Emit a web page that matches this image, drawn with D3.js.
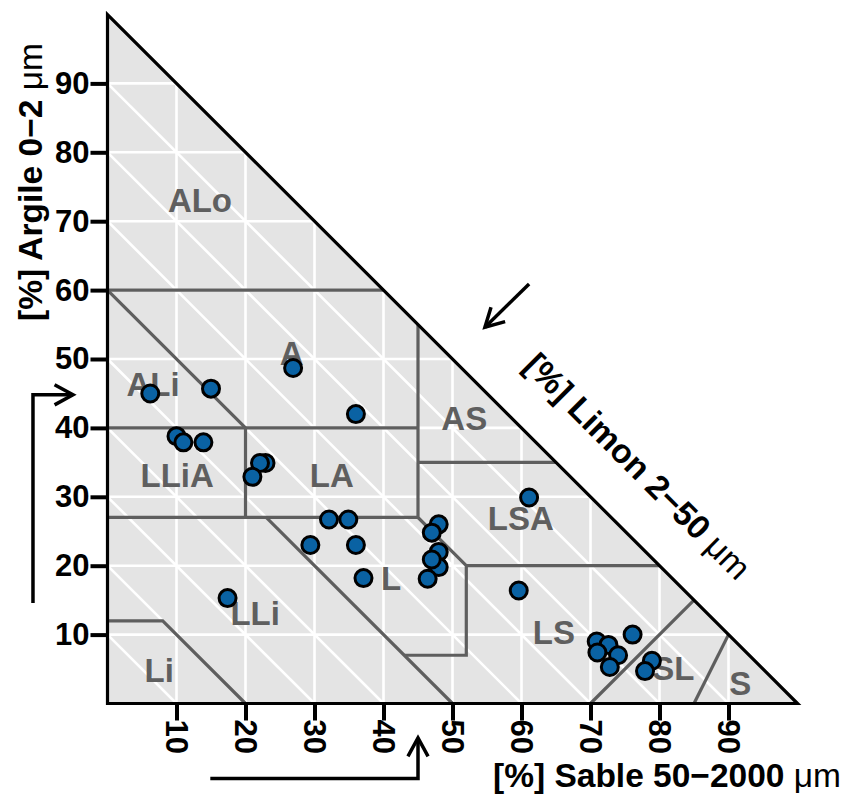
<!DOCTYPE html>
<html>
<head>
<meta charset="utf-8">
<script src="https://cdn.jsdelivr.net/npm/d3@7"></script>
<style>
  body { margin: 0; background: #fff; }
  text { font-family: "Liberation Sans", Arial, sans-serif; font-weight: bold; }
</style>
</head>
<body>
<svg id="chart" width="849" height="795"></svg>
<script>
// samples: sand (50-2000 um) and clay (0-2 um), in %
const sand = [6.2, 15.0, 10.0, 11.0, 13.9, 22.9, 22.1, 21.0, 26.9, 36.0,
              32.1, 34.9, 29.4, 36.0, 37.1, 48.0, 47.0, 48.0, 48.0, 47.0,
              46.4, 17.4, 61.1, 59.6, 70.9, 72.6, 71.0, 74.0, 72.8, 76.1,
              78.9, 77.9];
const clay = [45.0, 45.7, 38.8, 37.9, 37.9, 34.9, 34.9, 32.9, 48.7, 42.0,
              26.7, 26.7, 23.0, 23.0, 18.2, 26.0, 24.8, 22.0, 19.8, 20.9,
              18.1, 15.3, 29.9, 16.4, 9.0, 8.5, 7.4, 7.0, 5.3, 10.0,
              6.2, 4.7];

const ticks = [10, 20, 30, 40, 50, 60, 70, 80, 90];

// texture classes (label position in sand/clay %)
const classNames = ["ALo", "ALi", "A", "LLiA", "LA", "AS", "LSA", "L", "LLi", "LS", "SL", "Li", "S"];
const classSand  = [13.4, 6.6, 26.7, 10.1, 32.5, 51.7, 59.9, 41.1, 21.4, 64.7, 82.0, 7.5, 91.7];
const classClay  = [73.0, 46.4, 50.9, 33.1, 33.1, 41.4, 26.9, 18.2, 13.1, 10.4, 5.1, 4.9, 3.0];

// class limits as [sand, clay] polylines
const limits = [
  [[0, 60], [40, 60]],
  [[0, 60], [20, 40]],
  [[0, 40], [45, 40]],
  [[20, 40], [20, 27]],
  [[0, 27], [45, 27]],
  [[45, 55], [45, 27], [52, 20], [52, 7], [43, 7]],
  [[45, 35], [65, 35]],
  [[52, 20], [80, 20]],
  [[23, 27], [50, 0]],
  [[0, 12], [8, 12], [20, 0]],
  [[70, 0], [85, 15]],
  [[85, 0], [90, 10]]
];

const svg = d3.select("#chart");
const x = d3.scaleLinear().domain([0, 100]).range([107.5, 797.5]);
const y = d3.scaleLinear().domain([0, 100]).range([703.5, 14.5]);

const line = d3.line().x(d => x(d[0])).y(d => y(d[1]));

// triangle background
const tri = [[0, 0], [100, 0], [0, 100]];
svg.append("path")
  .attr("d", line(tri) + "Z")
  .attr("fill", "#e4e4e4");

// grid: sand, clay and silt lines
const grid = svg.append("g")
  .attr("stroke", "#fff")
  .attr("stroke-width", 2.6)
  .attr("fill", "none");
ticks.forEach(t => {
  grid.append("path").attr("d", line([[t, 0], [t, 100 - t]]));
  grid.append("path").attr("d", line([[0, t], [100 - t, t]]));
  grid.append("path").attr("d", line([[0, t], [t, 0]]));
});

// class limits
svg.append("g").selectAll("path")
  .data(limits)
  .join("path")
  .attr("d", line)
  .attr("fill", "none")
  .attr("stroke", "#5e5e5e")
  .attr("stroke-width", 3.2)
  .attr("stroke-linejoin", "miter");

// class labels
svg.append("g").selectAll("text")
  .data(classNames)
  .join("text")
  .attr("x", (d, i) => x(classSand[i]))
  .attr("y", (d, i) => y(classClay[i]))
  .attr("dy", "0.36em")
  .attr("text-anchor", "middle")
  .attr("fill", "#5f5f5f")
  .attr("font-size", 33)
  .text(d => d);

// triangle outline
svg.append("path")
  .attr("d", line(tri) + "Z")
  .attr("fill", "none")
  .attr("stroke", "#000")
  .attr("stroke-width", 3.2)
  .attr("stroke-linejoin", "miter");

// axes
const yAxis = svg.append("g")
  .attr("transform", `translate(${x(0)},0)`)
  .call(d3.axisLeft(y).tickValues(ticks).tickSize(17).tickSizeOuter(0).tickPadding(1));
const xAxis = svg.append("g")
  .attr("transform", `translate(0,${y(0)})`)
  .call(d3.axisBottom(x).tickValues(ticks).tickSize(17).tickSizeOuter(0));
[yAxis, xAxis].forEach(a => {
  a.select(".domain").remove();
  a.selectAll(".tick line").attr("stroke", "#000").attr("stroke-width", 4);
  a.selectAll(".tick text")
    .attr("fill", "#000")
    .attr("font-size", 31)
    .attr("font-family", "Liberation Sans, Arial, sans-serif")
    .attr("font-weight", "bold");
});
xAxis.selectAll(".tick text")
  .attr("y", 0)
  .attr("x", 16)
  .attr("dy", "0.36em")
  .attr("transform", "rotate(90)")
  .attr("text-anchor", "start");

// points
svg.append("g").selectAll("circle")
  .data(sand)
  .join("circle")
  .attr("cx", d => x(d))
  .attr("cy", (d, i) => y(clay[i]))
  .attr("r", 8.5)
  .attr("fill", "#0a62a3")
  .attr("stroke", "#000")
  .attr("stroke-width", 3);

// axis titles
function title(txt, px, py, rot, anchor, dy) {
  const t = svg.append("text")
    .attr("transform", `translate(${px},${py}) rotate(${rot})`)
    .attr("text-anchor", anchor)
    .attr("dy", dy)
    .attr("font-size", 33.5)
    .attr("fill", "#000");
  t.append("tspan").text(txt + " ");
  t.append("tspan").attr("font-weight", "normal").text("\u03bcm");
}
title("[%] Argile 0\u22122", 42, 182, -90, "middle", 0);
title("[%] Sable 50\u22122000", 667, 787, 0, "middle", 0);
title("[%] Limon 2\u221250", 638, 466, 45, "middle", "0.36em");

// direction arrows
const arrows = [
  [[-10.8, 14.6], [-10.8, 44.8], [-5.0, 44.8]],
  [[14.9, -10.9], [45.0, -10.9], [45.0, -5.0]],
  [[61.1, 60.9], [54.7, 54.6]]
];
const ag = svg.append("g")
  .attr("fill", "none")
  .attr("stroke", "#000")
  .attr("stroke-width", 3.5);
arrows.forEach(a => {
  ag.append("path").attr("d", line(a));
  const p = a[a.length - 1], q = a[a.length - 2];
  const tx = x(p[0]), ty = y(p[1]);
  const ang = Math.atan2(ty - y(q[1]), tx - x(q[0]));
  const len = 21, spread = 0.5;
  const h = [-1, 1].map(s => [tx - len * Math.cos(ang + s * spread), ty - len * Math.sin(ang + s * spread)]);
  ag.append("path").attr("d", `M${h[0]}L${tx},${ty}L${h[1]}`);
});
</script>
</body>
</html>
